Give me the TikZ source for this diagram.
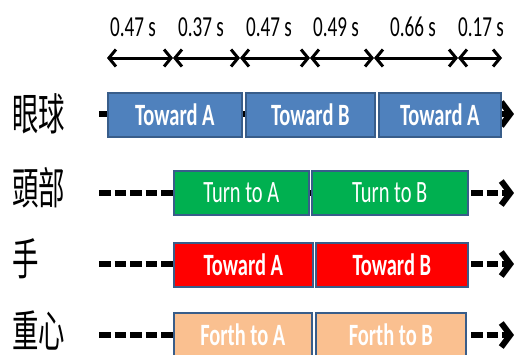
\documentclass[tikz,border=0pt]{standalone}
\usepackage{fontspec}
\usetikzlibrary{arrows.meta}
\newfontfamily\calfont[FakeStretch=0.66]{Carlito}
\newfontfamily\cjkfont[FakeStretch=0.6]{Noto Sans CJK TC}
\definecolor{eyeblue}{HTML}{4F81BD}
\definecolor{edgeblue}{HTML}{385D8A}
\definecolor{headgreen}{HTML}{00B050}
\definecolor{handred}{HTML}{FF0000}
\definecolor{bodypeach}{HTML}{FAC090}
\tikzset{
  seg/.style={draw=edgeblue, line width=1.6pt, anchor=north west, inner sep=0pt,
    minimum height=44pt, text=white, font=\calfont\fontsize{31}{31}\selectfont},
  boldseg/.style={seg, font=\calfont\bfseries\fontsize{31}{31}\selectfont},
  timelbl/.style={font=\calfont\fontsize{29}{29}\selectfont, inner sep=0pt},
  rowlbl/.style={font=\cjkfont\fontsize{44}{44}\selectfont, inner sep=0pt, anchor=west},
  timearrow/.style={line width=3pt, {Straight Barb[length=7pt,width=17pt]}-{Straight Barb[length=7pt,width=17pt]}},
  trackline/.style={line width=6pt, dash pattern=on 11.5pt off 4pt, -{Straight Barb[length=9pt,width=24pt]}},
}
\begin{document}
\begin{tikzpicture}[x=1pt,y=-1pt]
\clip (0,0) rectangle (514,354);
\useasboundingbox (0,0) rectangle (514,354);
% tick coordinates
\foreach \i/\x in {0/107,1/173,2/240,3/310,4/374,5/458,6/502}{
  \coordinate (t\i) at (\x,58);
}
\foreach \a/\b/\lx/\txt in {0/1/133/0.47 s,1/2/201/0.37 s,2/3/269/0.47 s,3/4/336/0.49 s,4/5/413/0.66 s,5/6/481/0.17 s}{
  \draw[timearrow] (t\a) -- (t\b);
  \node[timelbl] (lbl\a) at (\lx,27) {\txt};
}
% row labels
\node[rowlbl] (eye) at (12,114) {眼球};
\node[rowlbl] (head) at (12,188) {頭部};
\node[rowlbl] (hand) at (12,259) {手};
\node[rowlbl] (body) at (12,331) {重心};
% track lines
\coordinate (r1s) at (99,114);  \coordinate (r1e) at (514,114);
\coordinate (r2s) at (99,193);  \coordinate (r2e) at (514,193);
\coordinate (r3s) at (99,264);  \coordinate (r3e) at (514,264);
\coordinate (r4s) at (99,335);  \coordinate (r4e) at (514,335);
\draw[trackline] (r1s) -- (r1e);
\draw[trackline] (r2s) -- (r2e);
\draw[trackline] (r3s) -- (r3e);
\draw[trackline] (r4s) -- (r4e);
% row 1
\node[boldseg, fill=eyeblue, minimum width=134pt] (e1) at (107,92) {Toward A};
\node[boldseg, fill=eyeblue, minimum width=129pt] (e2) at (245,92) {Toward B};
\node[boldseg, fill=eyeblue, minimum width=122pt] (e3) at (378,92) {Toward A};
% row 2
\node[seg, fill=headgreen, minimum width=135pt] (h1) at (173,170) {Turn to A};
\node[seg, fill=headgreen, minimum width=156pt] (h2) at (311,170) {Turn to B};
% row 3
\node[boldseg, fill=handred, minimum width=139pt] (a1) at (173,242) {Toward A};
\node[boldseg, fill=handred, minimum width=152pt] (a2) at (315,242) {Toward B};
% row 4
\node[boldseg, fill=bodypeach, minimum width=138pt] (b1) at (173,312) {Forth to A};
\node[boldseg, fill=bodypeach, minimum width=150pt] (b2) at (315,312) {Forth to B};
\end{tikzpicture}
\end{document}
